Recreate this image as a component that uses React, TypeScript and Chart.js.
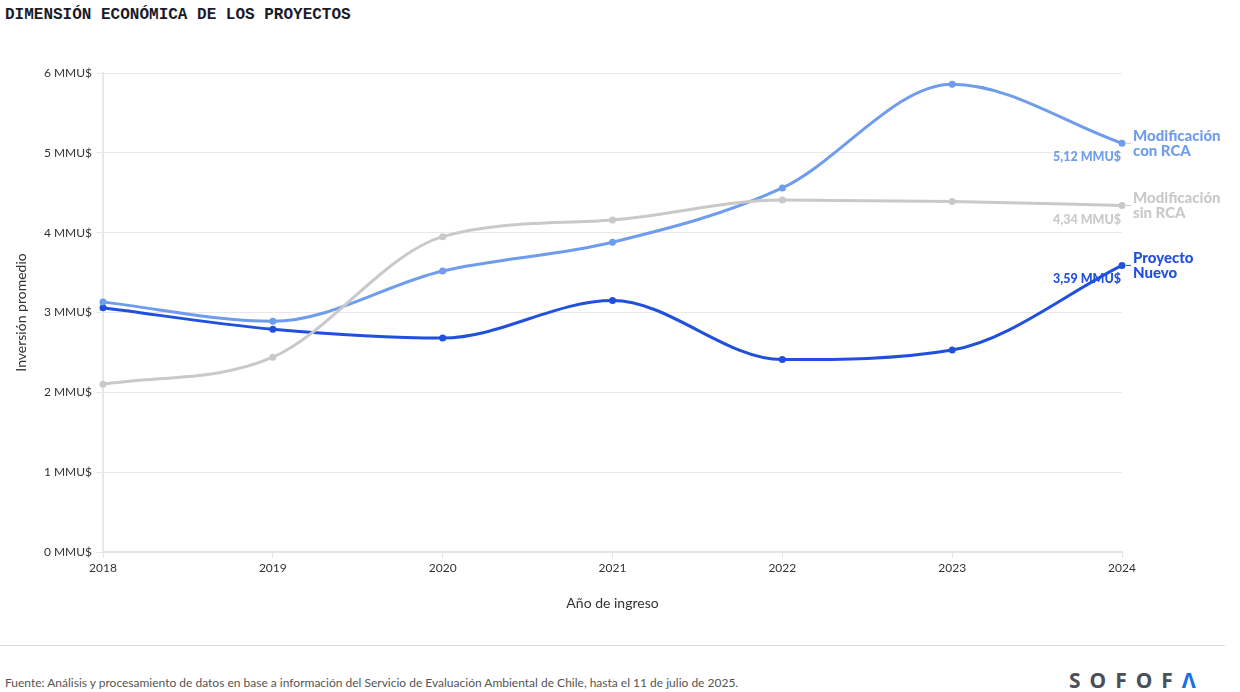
import React, { useEffect, useRef } from "react";
import { Chart, registerables } from "chart.js";

Chart.register(...registerables);

const years = ["2018", "2019", "2020", "2021", "2022", "2023", "2024"];
const conRCA = [3.13, 2.89, 3.52, 3.88, 4.56, 5.86, 5.12];
const sinRCA = [2.1, 2.44, 3.95, 4.16, 4.41, 4.39, 4.34];
const proyectoNuevo = [3.06, 2.79, 2.68, 3.15, 2.41, 2.53, 3.59];
const seriesNames = [["Modificación", "con RCA"], ["Modificación", "sin RCA"], ["Proyecto", "Nuevo"]];
const endValueLabels = ["5,12 MMU$", "4,34 MMU$", "3,59 MMU$"];
const seriesColors = ["#6f9ced", "#c9c9c9", "#2150dc"];
const yTicks = [0, 1, 2, 3, 4, 5, 6];

const FONT = "Lato, 'Noto Sans', sans-serif";

const endLabelsPlugin = {
  id: "endLabels",
  afterDatasetsDraw(chart: any) {
    const ctx = chart.ctx as CanvasRenderingContext2D;
    chart.data.datasets.forEach((ds: any, di: number) => {
      const i = ds.labelIndex as number;
      const meta = chart.getDatasetMeta(di);
      const pt = meta.data[meta.data.length - 1];
      if (!pt) return;
      const x = pt.x;
      const y = pt.y;
      ctx.save();
      ctx.strokeStyle = i === 2 ? seriesColors[2] : "#c9c9c9";
      ctx.lineWidth = 1;
      ctx.beginPath();
      ctx.moveTo(x + 4, y);
      ctx.lineTo(x + 9, y);
      ctx.stroke();
      ctx.fillStyle = seriesColors[i];
      ctx.font = `900 12.5px ${FONT}`;
      ctx.textAlign = "right";
      ctx.textBaseline = "middle";
      ctx.fillText(endValueLabels[i], x - 1, y + 14);
      ctx.font = `900 15px ${FONT}`;
      ctx.textAlign = "left";
      seriesNames[i].forEach((ln, k) => {
        ctx.fillText(ln, x + 11, y - 7 + k * 15);
      });
      ctx.restore();
    });
  },
};

export default function App() {
  const ref = useRef<HTMLCanvasElement | null>(null);

  useEffect(() => {
    if (!ref.current) return;
    const mk = (label: string, data: number[], idx: number) => ({
      label,
      data,
      labelIndex: idx,
      borderColor: seriesColors[idx],
      backgroundColor: seriesColors[idx],
      borderWidth: 3,
      pointRadius: 3.5,
      pointBorderWidth: 0,
      pointBackgroundColor: seriesColors[idx],
      cubicInterpolationMode: "monotone" as const,
      clip: false as any,
      fill: false,
    });
    const chart = new Chart(ref.current, {
      type: "line",
      data: {
        labels: years,
        datasets: [
          mk("Modificación sin RCA", sinRCA, 1),
          mk("Modificación con RCA", conRCA, 0),
          mk("Proyecto Nuevo", proyectoNuevo, 2),
        ] as any,
      },
      options: {
        animation: false,
        responsive: false,
        maintainAspectRatio: false,
        devicePixelRatio: 1,
        layout: { padding: { top: 32, left: 0, right: 118, bottom: 19 } },
        plugins: {
          legend: { display: false },
          tooltip: { enabled: false },
        },
        events: [],
        scales: {
          x: {
            type: "category",
            offset: false,
            grid: {
              display: true,
              drawOnChartArea: false,
              drawTicks: true,
              tickLength: 6,
              color: "#e4e4e4",
            },
            border: { display: true, color: "#e4e4e4", width: 2 },
            ticks: {
              color: "#333",
              font: { family: FONT, size: 12 },
              padding: 3,
              maxRotation: 0,
            },
            title: {
              display: true,
              text: "Año de ingreso",
              color: "#333",
              font: { family: FONT, size: 14 },
              padding: { top: 0, bottom: 0 },
            },
            afterFit: (s: any) => {
              s.height = 60;
            },
          },
          y: {
            min: 0,
            max: 6,
            afterBuildTicks: (s: any) => {
              s.ticks = yTicks.map((v) => ({ value: v }));
            },
            grid: {
              color: "#e8e8e8",
              lineWidth: 1,
              drawTicks: true,
              tickLength: 7,
            },
            border: { display: true, color: "#e8e8e8", width: 2 },
            ticks: {
              color: "#333",
              font: { family: FONT, size: 12 },
              padding: 4,
              callback: (v: any) => `${v} MMU$`,
            },
            title: {
              display: true,
              text: "Inversión promedio",
              color: "#333",
              font: { family: FONT, size: 14 },
              padding: { top: 13, bottom: 0 },
            },
            afterFit: (s: any) => {
              s.width = 103;
            },
          },
        },
      },
      plugins: [endLabelsPlugin],
    });
    return () => chart.destroy();
  }, []);

  return (
    <div
      style={{
        position: "absolute",
        left: 0,
        top: 0,
        width: 1240,
        height: 692,
        background: "#fff",
        overflow: "hidden",
        fontFamily: FONT,
      }}
    >
      <div
        style={{
          position: "absolute",
          left: 5,
          top: 5,
          fontFamily: "'Liberation Mono', 'DejaVu Sans Mono', monospace",
          fontWeight: "bold",
          fontSize: 16,
          lineHeight: "20px",
          color: "#1b1b2a",
        }}
      >
        DIMENSIÓN ECONÓMICA DE LOS PROYECTOS
      </div>
      <canvas
        ref={ref}
        width={1240}
        height={590}
        style={{ position: "absolute", left: 0, top: 41, width: 1240, height: 590 }}
      />
      <div
        style={{
          position: "absolute",
          left: 0,
          top: 645,
          width: 1225,
          height: 1,
          background: "#dcdcdc",
        }}
      />
      <div
        style={{
          position: "absolute",
          left: 5,
          top: 675,
          fontSize: 12,
          lineHeight: "16px",
          color: "#555",
          whiteSpace: "nowrap",
        }}
      >
        Fuente: Análisis y procesamiento de datos en base a información del Servicio de Evaluación Ambiental de Chile, hasta el 11 de julio de 2025.
      </div>
      <div
        style={{
          position: "absolute",
          left: 1069,
          top: 667,
          fontSize: 21,
          fontWeight: "bold",
          lineHeight: "26px",
          letterSpacing: 9,
          color: "#4a4f5a",
          fontFamily: "'Noto Sans', sans-serif",
          whiteSpace: "nowrap",
        }}
      >
        SOFOF<span style={{ color: "#1a6fe6" }}>Λ</span>
      </div>
    </div>
  );
}
